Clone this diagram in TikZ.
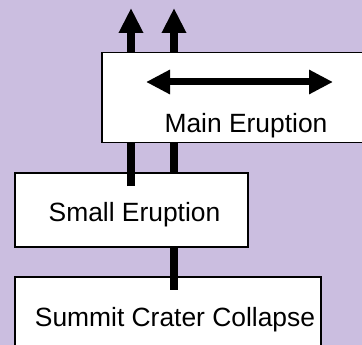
\documentclass[tikz,border=0pt]{standalone}
\usepackage{fontspec}
\setmainfont{Liberation Sans}
\usetikzlibrary{arrows.meta}
\definecolor{lavender}{RGB}{203,190,224}
\tikzset{
    box/.style={draw, rectangle, fill=white, line width=1.5pt, anchor=north west, inner sep=0pt},
    lbl/.style={anchor=base, inner sep=0pt, font=\fontsize{26.4}{30}\selectfont},
    fat/.style={line width=7.5pt},
    arr/.style={fat, -{Triangle[width=23pt,length=25pt]}},
    darr/.style={line width=7pt, {Triangle[width=23pt,length=24pt]}-{Triangle[width=23pt,length=24pt]}}
}
\begin{document}
\begin{tikzpicture}[x=1pt, y=-1pt]
        \useasboundingbox (0,0) rectangle (362,345);
        \clip (0,0) rectangle (362,345);
        \fill [lavender] (0,0) rectangle (362,345);

        % --- Lower boxes ---
        \node [box, minimum width=233pt, minimum height=74pt] (small) at (14,172) {};
        \node [box, minimum width=306pt, minimum height=90pt] (summit) at (14,276) {};
        \node [lbl] (smalltxt) at (134.5,222) {Small Eruption};
        \node [lbl] (summittxt) at (175,326) {Summit Crater Collapse};

        % --- Connectors ---
        \coordinate (leftfoot) at (131,186);
        \coordinate (leftout)  at (131,8);
        \coordinate (rightout) at (174,8);
        \coordinate (sink)     at (174,290);
        \draw [arr] (leftfoot) -- (leftout);
        \draw [arr] (small.north -| rightout) -- (rightout);
        \draw [fat] (small.south -| sink) -- (sink);

        % --- Main box on top ---
        \node [box, minimum width=280pt, minimum height=90pt] (main) at (101,52) {};
        \node [lbl] (maintxt) at (246,133) {Main Eruption};
        \coordinate (spreadl) at (146,82);
        \coordinate (spreadr) at (333,82);
        \draw [darr] (spreadl) -- (spreadr);

    \end{tikzpicture}
\end{document}
